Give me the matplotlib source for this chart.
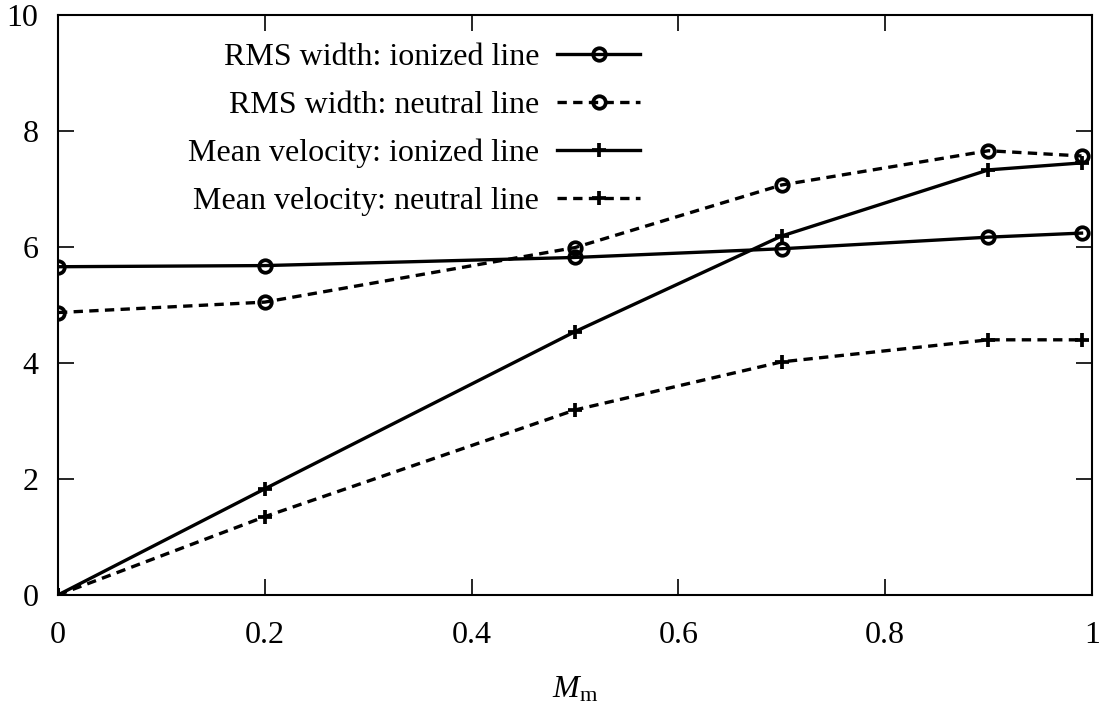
import numpy as np
import matplotlib
matplotlib.use('Agg')
from matplotlib import pyplot as plt

plt.rcParams['font.family'] = ['Liberation Serif', 'DejaVu Serif']
plt.rcParams['mathtext.fontset'] = 'custom'
plt.rcParams['mathtext.rm'] = 'Liberation Serif'
plt.rcParams['mathtext.it'] = 'Liberation Serif:italic'

# data
m_m = [0.0, 0.2, 0.5, 0.7, 0.9, 0.99]
rms_ionized = [5.66, 5.68, 5.82, 5.97, 6.17, 6.24]
rms_neutral = [4.87, 5.05, 5.99, 7.07, 7.66, 7.57]
vel_ionized = [0.0, 1.83, 4.54, 6.19, 7.33, 7.45]
vel_neutral = [0.0, 1.35, 3.19, 4.02, 4.40, 4.40]

labels = ['RMS width: ionized line', 'RMS width: neutral line',
          'Mean velocity: ionized line', 'Mean velocity: neutral line']

lw = 2.4
dash = (2.8, 1.9)
fs = 23

fig = plt.figure(figsize=(11.04, 7.09), dpi=100)
ax = fig.add_axes([0.0525, 0.1608, 0.9365, 0.818])

circ = dict(marker='o', markersize=9, markerfacecolor='none', markeredgewidth=2.7)
plus = dict(marker='+', markersize=10.5, markeredgewidth=2.7)

ax.plot(m_m, rms_ionized, 'k-', lw=lw, label=labels[0], **circ)
ax.plot(m_m, rms_neutral, 'k--', lw=lw, dashes=dash, label=labels[1], **circ)
ax.plot(m_m, vel_ionized, 'k-', lw=lw, label=labels[2], **plus)
ax.plot(m_m, vel_neutral, 'k--', lw=lw, dashes=dash, label=labels[3], **plus)

ax.set_xlim(0, 1)
ax.set_ylim(0, 10)
ax.set_xticks([0, 0.2, 0.4, 0.6, 0.8, 1])
ax.set_xticklabels(['0', '0.2', '0.4', '0.6', '0.8', '1'])
ax.set_yticks([0, 2, 4, 6, 8, 10])
ax.tick_params(direction='in', length=11.5, width=1.2, top=True, right=True,
               labelsize=fs)
ax.tick_params(axis='x', pad=19)
ax.tick_params(axis='y', pad=14)
for s in ax.spines.values():
    s.set_linewidth(1.5)

ax.set_xlabel(r'$M_\mathrm{m}$', fontsize=fs, labelpad=18)

ax.legend(loc='upper right', bbox_to_anchor=(0.563, 0.952), frameon=False,
          markerfirst=False, numpoints=1, fontsize=fs, handlelength=2.6,
          handletextpad=0.56, labelspacing=0.58, borderpad=0, borderaxespad=0)

fig.savefig('out.png', dpi=100)
